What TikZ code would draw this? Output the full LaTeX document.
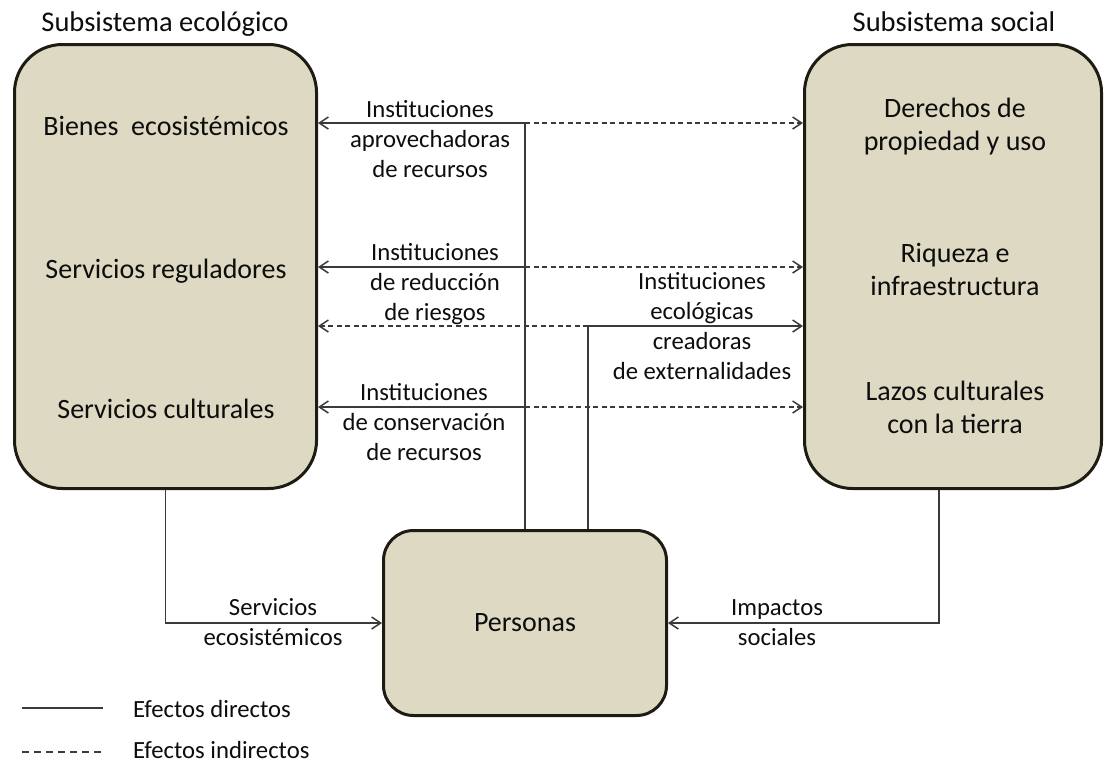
\documentclass[tikz,border=0pt]{standalone}
\usepackage{fontspec}
\setmainfont{Carlito}
\usetikzlibrary{arrows.meta,calc}
\definecolor{ink}{HTML}{0D0D0D}
\definecolor{linegray}{HTML}{3A3A3A}
\definecolor{boxborder}{HTML}{1E1C12}
\definecolor{boxfill}{HTML}{DDD9C3}

\begin{document}
\begin{tikzpicture}[
  x=1pt, y=-1pt,
  >={Straight Barb[length=9pt,width=12pt]},
  box/.style={draw=boxborder, fill=boxfill, line width=3pt, rounded corners=48pt, inner sep=0pt},
  boxtext/.style={font=\fontsize{28}{33}\selectfont, align=center, text=ink, anchor=base, inner sep=0pt},
  titulo/.style={font=\fontsize{28.5}{34}\selectfont, text=ink, anchor=base, inner sep=0pt},
  etiq/.style={font=\fontsize{24.7}{30}\selectfont, align=center, text=ink, anchor=base, inner sep=0pt},
  directo/.style={draw=linegray, line width=1.5pt},
  indirecto/.style={directo, dash pattern=on 5pt off 3.5pt}
]
\useasboundingbox (0,0) rectangle (1104,764);

% subsistemas
\node[titulo] (teco) at (165,31) {Subsistema ecológico};
\node[titulo] (tsoc) at (954,31) {Subsistema social};
\node[box, minimum width=302pt, minimum height=444pt] (eco) at (165.5,266.5) {};
\node[box, minimum width=297pt, minimum height=444pt] (soc) at (953,266.5) {};
\node[box, rounded corners=30pt, minimum width=283pt, minimum height=185pt,
  font=\fontsize{28}{33}\selectfont, text=ink] (per) at (525,623) {Personas};

% (base of a multi-line node = last line)
\node[boxtext] (bienes) at (166,135) {Bienes\ \ ecosistémicos};
\node[boxtext] (regul) at (166,278) {Servicios reguladores};
\node[boxtext] (cultur) at (166,418) {Servicios culturales};
\node[boxtext] (derechos) at (955,150) {Derechos de\\propiedad y uso};
\node[boxtext] (riqueza) at (955,295) {Riqueza e\\infraestructura};
\node[boxtext] (lazos) at (955,433) {Lazos culturales\\con la tierra};

% instituciones
\coordinate (t1) at (525,123);
\coordinate (t2) at (525,267);
\coordinate (t3) at (525,407);
\coordinate (e1) at (588,326);
\draw[directo] (t1) -- (t1 |- per.north);
\draw[directo] (e1) -- (e1 |- per.north);
\foreach \t in {t1,t2,t3}{
  \draw[directo,->] (\t) -- (\t -| eco.east);
  \draw[indirecto,->] (\t) -- (\t -| soc.west);
}
\draw[directo,->] (e1) -- (e1 -| soc.west);
\draw[indirecto,->] (e1) -- (e1 -| eco.east);

\node[etiq] (inst1) at (430,177) {Instituciones\\aprovechadoras\\de recursos};
\node[etiq] (inst2) at (435,320) {Instituciones\\de reducción\\de riesgos};
\node[etiq] (inst3) at (424,460) {Instituciones\\de conservación\\de recursos};
\node[etiq] (inst4) at (702,379) {Instituciones\\ecológicas\\creadoras\\de externalidades};

% efectos sobre las personas
\draw[directo,->] (eco.south) |- (per.west);
\draw[directo,->] ([xshift=-14pt]soc.south) |- (per.east);
\node[etiq] (servicios) at (273,645) {Servicios\\ecosistémicos};
\node[etiq] (impactos) at (777,645) {Impactos\\sociales};

% leyenda
\node[etiq, anchor=base west] (leydir) at (133,717) {Efectos directos};
\node[etiq, anchor=base west] (leyind) at (133,758) {Efectos indirectos};
\draw[directo] (22,708) -- (103,708);
\draw[directo, dash pattern=on 7pt off 5pt] (22,752) -- (103,752);

\end{tikzpicture}
\end{document}
